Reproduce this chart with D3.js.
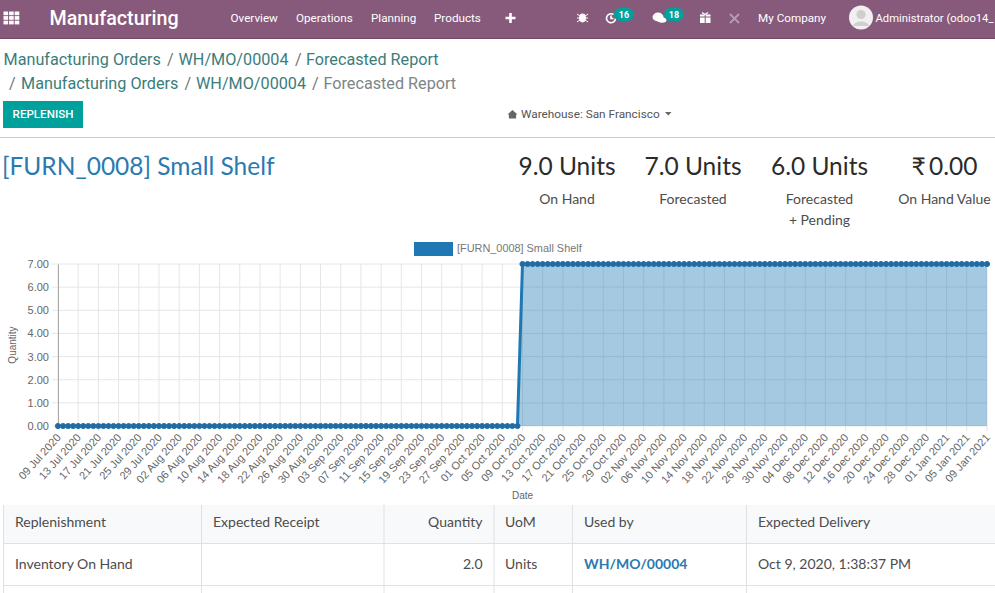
<!DOCTYPE html>
<html>
<head>
<meta charset="utf-8">
<script src="https://cdn.jsdelivr.net/npm/d3@7"></script>
<style>
    html, body { margin: 0; padding: 0; background: #fff; overflow: hidden; }
    svg { display: block; }
    .nav { font-family: Roboto, sans-serif; fill: #fff; }
    .lato { font-family: Lato, sans-serif; }
    .crumb { font-family: Roboto, sans-serif; font-size: 16.2px; fill: #3b7d7b; }
    .chart text { font-family: "Liberation Sans", Arial, sans-serif; fill: #666; }
    .grid line { stroke: #e6e6e6; stroke-width: 1; }
</style>
</head>
<body>
<div id="page"></div>
<script>
var dates = [
    "09 Jul 2020","10 Jul 2020","11 Jul 2020","12 Jul 2020","13 Jul 2020","14 Jul 2020","15 Jul 2020","16 Jul 2020",
    "17 Jul 2020","18 Jul 2020","19 Jul 2020","20 Jul 2020","21 Jul 2020","22 Jul 2020","23 Jul 2020","24 Jul 2020",
    "25 Jul 2020","26 Jul 2020","27 Jul 2020","28 Jul 2020","29 Jul 2020","30 Jul 2020","31 Jul 2020","01 Aug 2020",
    "02 Aug 2020","03 Aug 2020","04 Aug 2020","05 Aug 2020","06 Aug 2020","07 Aug 2020","08 Aug 2020","09 Aug 2020",
    "10 Aug 2020","11 Aug 2020","12 Aug 2020","13 Aug 2020","14 Aug 2020","15 Aug 2020","16 Aug 2020","17 Aug 2020",
    "18 Aug 2020","19 Aug 2020","20 Aug 2020","21 Aug 2020","22 Aug 2020","23 Aug 2020","24 Aug 2020","25 Aug 2020",
    "26 Aug 2020","27 Aug 2020","28 Aug 2020","29 Aug 2020","30 Aug 2020","31 Aug 2020","01 Sep 2020","02 Sep 2020",
    "03 Sep 2020","04 Sep 2020","05 Sep 2020","06 Sep 2020","07 Sep 2020","08 Sep 2020","09 Sep 2020","10 Sep 2020",
    "11 Sep 2020","12 Sep 2020","13 Sep 2020","14 Sep 2020","15 Sep 2020","16 Sep 2020","17 Sep 2020","18 Sep 2020",
    "19 Sep 2020","20 Sep 2020","21 Sep 2020","22 Sep 2020","23 Sep 2020","24 Sep 2020","25 Sep 2020","26 Sep 2020",
    "27 Sep 2020","28 Sep 2020","29 Sep 2020","30 Sep 2020","01 Oct 2020","02 Oct 2020","03 Oct 2020","04 Oct 2020",
    "05 Oct 2020","06 Oct 2020","07 Oct 2020","08 Oct 2020","09 Oct 2020","10 Oct 2020","11 Oct 2020","12 Oct 2020",
    "13 Oct 2020","14 Oct 2020","15 Oct 2020","16 Oct 2020","17 Oct 2020","18 Oct 2020","19 Oct 2020","20 Oct 2020",
    "21 Oct 2020","22 Oct 2020","23 Oct 2020","24 Oct 2020","25 Oct 2020","26 Oct 2020","27 Oct 2020","28 Oct 2020",
    "29 Oct 2020","30 Oct 2020","31 Oct 2020","01 Nov 2020","02 Nov 2020","03 Nov 2020","04 Nov 2020","05 Nov 2020",
    "06 Nov 2020","07 Nov 2020","08 Nov 2020","09 Nov 2020","10 Nov 2020","11 Nov 2020","12 Nov 2020","13 Nov 2020",
    "14 Nov 2020","15 Nov 2020","16 Nov 2020","17 Nov 2020","18 Nov 2020","19 Nov 2020","20 Nov 2020","21 Nov 2020",
    "22 Nov 2020","23 Nov 2020","24 Nov 2020","25 Nov 2020","26 Nov 2020","27 Nov 2020","28 Nov 2020","29 Nov 2020",
    "30 Nov 2020","01 Dec 2020","02 Dec 2020","03 Dec 2020","04 Dec 2020","05 Dec 2020","06 Dec 2020","07 Dec 2020",
    "08 Dec 2020","09 Dec 2020","10 Dec 2020","11 Dec 2020","12 Dec 2020","13 Dec 2020","14 Dec 2020","15 Dec 2020",
    "16 Dec 2020","17 Dec 2020","18 Dec 2020","19 Dec 2020","20 Dec 2020","21 Dec 2020","22 Dec 2020","23 Dec 2020",
    "24 Dec 2020","25 Dec 2020","26 Dec 2020","27 Dec 2020","28 Dec 2020","29 Dec 2020","30 Dec 2020","31 Dec 2020",
    "01 Jan 2021","02 Jan 2021","03 Jan 2021","04 Jan 2021","05 Jan 2021","06 Jan 2021","07 Jan 2021","08 Jan 2021",
    "09 Jan 2021"
];
var quantities = [
    0,0,0,0,0,0,0,0,0,0,0,0,0,0,0,0,0,0,0,0,0,0,0,0,0,0,0,0,0,0,0,0,
    0,0,0,0,0,0,0,0,0,0,0,0,0,0,0,0,0,0,0,0,0,0,0,0,0,0,0,0,0,0,0,0,
    0,0,0,0,0,0,0,0,0,0,0,0,0,0,0,0,0,0,0,0,0,0,0,0,0,0,0,0,
    7,7,7,7,7,7,7,7,7,7,7,7,7,7,7,7,7,7,7,7,7,7,7,7,7,7,7,7,7,7,7,7,
    7,7,7,7,7,7,7,7,7,7,7,7,7,7,7,7,7,7,7,7,7,7,7,7,7,7,7,7,7,7,7,7,
    7,7,7,7,7,7,7,7,7,7,7,7,7,7,7,7,7,7,7,7,7,7,7,7,7,7,7,7,7
];
var yTicks = [0, 1, 2, 3, 4, 5, 6, 7];
var seriesName = "[FURN_0008] Small Shelf";

var navItems = ["Overview", "Operations", "Planning", "Products"];
var crumbsTop = ["Manufacturing Orders", "WH/MO/00004", "Forecasted Report"];
var stats = ["9.0 Units", "7.0 Units", "6.0 Units", "₹ 0.00"];
var statLabels = [["On Hand"], ["Forecasted"], ["Forecasted", "+ Pending"], ["On Hand Value"]];
var tableHeaders = ["Replenishment", "Expected Receipt", "Quantity", "UoM", "Used by", "Expected Delivery"];
var tableRow = ["Inventory On Hand", "", "2.0", "Units", "WH/MO/00004", "Oct 9, 2020, 1:38:37 PM"];

var svg = d3.select("#page").append("svg")
    .attr("width", 995)
    .attr("height", 593);

function addText(parent, x, y, str, size, color, cls, anchor) {
    return parent.append("text")
        .attr("class", cls || null)
        .attr("x", x)
        .attr("y", y)
        .attr("text-anchor", anchor || "start")
        .attr("font-size", size)
        .attr("fill", color)
        .text(str);
}

function drawNavbar() {
    var nav = svg.append("g");
    nav.append("rect").attr("width", 995).attr("height", 38.5).attr("fill", "#875a7b");
    nav.append("rect").attr("y", 38).attr("width", 995).attr("height", 1).attr("fill", "#6f4a66");

    // apps grid icon
    d3.range(3).forEach(function (r) {
        d3.range(3).forEach(function (c) {
            nav.append("rect").attr("x", 3.5 + c * 5.6).attr("y", 11.5 + r * 4.6)
                .attr("width", 4.6).attr("height", 3.7).attr("fill", "#fff");
        });
    });

    addText(nav, 49.5, 24.5, "Manufacturing", 19.7, "#fff", "nav").attr("font-weight", 500);
    var navX = [230.5, 296, 371, 434];
    navItems.forEach(function (d, i) {
        addText(nav, navX[i], 22, d, 11.7, "#fff", "nav");
    });

    // plus
    nav.append("path").attr("d", "M510.5 13v10M505.5 18h10").attr("stroke", "#fff").attr("stroke-width", 2.6);
    // bug
    nav.append("ellipse").attr("cx", 582.5).attr("cy", 18).attr("rx", 3.4).attr("ry", 4.4).attr("fill", "#fff");
    nav.append("path").attr("d", "M577 14l11 8M588 14l-11 8M577 18h11").attr("stroke", "#fff").attr("stroke-width", 1);
    // clock
    nav.append("path").attr("d", "M613.5 14.5a4.5 4.5 0 1 0 2 4M611 15.5v3h2.5")
        .attr("fill", "none").attr("stroke", "#fff").attr("stroke-width", 1.6);
    badge(nav, 624, 14.5, "16");
    // comments
    nav.append("ellipse").attr("cx", 658).attr("cy", 17).attr("rx", 5.5).attr("ry", 4.4).attr("fill", "#fff");
    nav.append("ellipse").attr("cx", 662).attr("cy", 20).attr("rx", 4.5).attr("ry", 2.8).attr("fill", "#fff");
    badge(nav, 674, 14.5, "18");
    // gift
    nav.append("rect").attr("x", 700).attr("y", 14.5).attr("width", 10.5).attr("height", 8.5).attr("fill", "#fff");
    nav.append("path").attr("d", "M705.2 14v9M699.5 17h11.5").attr("stroke", "#875a7b").attr("stroke-width", 1);
    nav.append("path").attr("d", "M702 12.5l3 2 3-2").attr("stroke", "#fff").attr("stroke-width", 1.4).attr("fill", "none");
    // tools
    nav.append("path").attr("d", "M730 14l9 9M739 14l-9 9").attr("stroke", "#b49bad").attr("stroke-width", 2);

    addText(nav, 758, 22, "My Company", 11.7, "#fff", "nav");

    // avatar
    nav.append("circle").attr("cx", 861).attr("cy", 17.5).attr("r", 12).attr("fill", "#f1eff0");
    nav.append("circle").attr("cx", 861).attr("cy", 14.5).attr("r", 4.6).attr("fill", "#cfcfcf");
    nav.append("path").attr("d", "M853 26c1-6 15-6 16 0z").attr("fill", "#cfcfcf");
    addText(nav, 875.5, 22, "Administrator (odoo14_", 10.8, "#fff", "nav")
        .attr("textLength", 118)
        .attr("lengthAdjust", "spacingAndGlyphs");
}

function badge(parent, cx, cy, str) {
    parent.append("rect").attr("x", cx - 10).attr("y", cy - 6.5).attr("width", 20).attr("height", 13)
        .attr("rx", 6.5).attr("fill", "#00a09d");
    addText(parent, cx, cy + 3, str, 9, "#fff", "nav", "middle").attr("font-weight", 700);
}

function drawHeader() {
    var g = svg.append("g");
    var y1 = 65, y2 = 89;
    var x1 = [3.5, 178.5, 306], sep1 = [167, 295];
    crumbsTop.forEach(function (d, i) { addText(g, x1[i], y1, d, 16.2, "#3b7d7b", "crumb"); });
    sep1.forEach(function (x) { addText(g, x, y1, "/", 16.2, "#777", "crumb").style("fill", "#777"); });

    var x2 = [21, 196, 323.5], sep2 = [9, 184.5, 312];
    crumbsTop.forEach(function (d, i) {
        addText(g, x2[i], y2, d, 16.2, i == 2 ? "#7d8587" : "#3b7d7b", "crumb")
            .style("fill", i == 2 ? "#7d8587" : "#3b7d7b");
    });
    sep2.forEach(function (x) { addText(g, x, y2, "/", 16.2, "#777", "crumb").style("fill", "#777"); });

    // replenish button
    g.append("rect").attr("x", 3).attr("y", 101).attr("width", 80).attr("height", 27).attr("fill", "#00a09d");
    addText(g, 43, 118, "REPLENISH", 11.6, "#fff", "nav", "middle").attr("font-weight", 500);

    // warehouse filter
    g.append("path").attr("d", "M507.5 114.5l5-4.5 5 4.5h-1.4v4h-7.2v-4z").attr("fill", "#666");
    addText(g, 521, 118, "Warehouse: San Francisco", 11.8, "#555", "nav").style("fill", "#555");
    g.append("path").attr("d", "M665 112h6.5l-3.2 3.4z").attr("fill", "#666");

    g.append("line").attr("x1", 0).attr("x2", 995).attr("y1", 137.5).attr("y2", 137.5)
        .attr("stroke", "#ccc").attr("stroke-width", 1);

    addText(g, 2, 175, seriesName, 24.5, "#2a7ab0", "lato");

    var statX = [567, 693, 819.5, 944.5];
    stats.forEach(function (d, i) {
        addText(g, statX[i], 175, d, 24.5, "#2b2b2b", "lato", "middle")
            .attr("word-spacing", i == 3 ? -3 : null);
        statLabels[i].forEach(function (s, j) {
            addText(g, statX[i], 204 + j * 21, s, 14, "#4c4c4c", "lato", "middle");
        });
    });
}

function drawChart() {
    var margin = { top: 264, right: 8, bottom: 167, left: 58 };
    var width = 995 - margin.left - margin.right,
        height = 593 - margin.top - margin.bottom;

    var chart = svg.append("g")
        .attr("class", "chart")
        .attr("transform", "translate(" + margin.left + "," + margin.top + ")");

    var x = d3.scalePoint().domain(dates).range([0, width]);
    var y = d3.scaleLinear().domain([0, 7]).range([height, 0]);

    var tickDates = dates.filter(function (d, i) { return i % 4 == 0; });

    // grid
    var grid = chart.append("g").attr("class", "grid");
    grid.selectAll(".gx").data(tickDates).enter().append("line")
        .attr("x1", function (d) { return x(d); })
        .attr("x2", function (d) { return x(d); })
        .attr("y1", 0)
        .attr("y2", height + 5);
    grid.selectAll(".gy").data(yTicks).enter().append("line")
        .attr("x1", -6)
        .attr("x2", width)
        .attr("y1", function (d) { return y(d); })
        .attr("y2", function (d) { return y(d); });

    // area + line
    var series = dates.map(function (d, i) { return { date: d, value: quantities[i] }; });
    var area = d3.area()
        .x(function (d) { return x(d.date); })
        .y0(y(0))
        .y1(function (d) { return y(d.value); });
    var line = d3.line()
        .x(function (d) { return x(d.date); })
        .y(function (d) { return y(d.value); });

    chart.append("path").datum(series).attr("d", area)
        .attr("fill", "#1f77b4").attr("fill-opacity", 0.4);

    // axes
    var yAxis = d3.axisLeft(y).tickValues(yTicks).tickSize(0).tickPadding(9)
        .tickFormat(function (d) { return d3.format(".2f")(d); });
    var gy = chart.append("g").call(yAxis);
    gy.select(".domain").attr("stroke", "#a8a8a8");
    gy.selectAll("text").attr("font-size", 11).style("font-family", "'Liberation Sans', Arial, sans-serif");

    var xAxis = d3.axisBottom(x).tickValues(tickDates).tickSize(0).tickPadding(0);
    var gx = chart.append("g").attr("transform", "translate(0," + height + ")").call(xAxis);
    gx.select(".domain").remove();
    gx.selectAll("text")
        .attr("font-size", 11)
        .attr("text-anchor", "end")
        .attr("dx", 0)
        .attr("dy", 0)
        .attr("transform", "translate(3,12) rotate(-48)");

    chart.append("path").datum(series).attr("d", line)
        .attr("fill", "none").attr("stroke", "#1f77b4").attr("stroke-width", 3);

    chart.selectAll(".dot").data(series).enter().append("circle")
        .attr("class", "dot")
        .attr("cx", function (d) { return x(d.date); })
        .attr("cy", function (d) { return y(d.value); })
        .attr("r", 2.6)
        .attr("fill", "#27679a")
        .attr("stroke", "#1f77b4")
        .attr("stroke-width", 1);

    // axis titles
    chart.append("text")
        .attr("transform", "translate(-42," + (height / 2) + ") rotate(-90)")
        .attr("text-anchor", "middle")
        .attr("font-size", 10)
        .text("Quantity");
    chart.append("text")
        .attr("x", width / 2)
        .attr("y", 235)
        .attr("text-anchor", "middle")
        .attr("font-size", 10)
        .text("Date");

    // legend
    svg.append("rect").attr("x", 414).attr("y", 242).attr("width", 39).attr("height", 14).attr("fill", "#1f77b4");
    svg.append("text").attr("x", 457).attr("y", 252)
        .attr("font-size", 10.9)
        .attr("fill", "#777")
        .style("font-family", "'Liberation Sans', Arial, sans-serif")
        .text(seriesName);
}

function drawTable() {
    var g = svg.append("g").attr("class", "lato");
    var colX = [3.5, 201.5, 384, 494, 572.5, 746.5, 995];
    var rowY = [505, 543.5, 585.5, 593];

    g.append("rect").attr("x", colX[0]).attr("y", rowY[0]).attr("width", 995 - colX[0]).attr("height", rowY[1] - rowY[0])
        .attr("fill", "#f8f9fa");

    colX.slice(0, 6).forEach(function (cx) {
        g.append("line").attr("x1", cx).attr("x2", cx).attr("y1", rowY[0]).attr("y2", 593)
            .attr("stroke", "#dee2e6");
    });
    rowY.slice(1, 3).forEach(function (ry) {
        g.append("line").attr("x1", colX[0]).attr("x2", 995).attr("y1", ry).attr("y2", ry)
            .attr("stroke", "#dee2e6");
    });

    var textX = [15, 213, 482.5, 505, 584, 758];
    tableHeaders.forEach(function (d, i) {
        addText(g, textX[i], 527, d, 14, "#4c4c4c", "lato", i == 2 ? "end" : "start");
    });
    tableRow.forEach(function (d, i) {
        var t = addText(g, textX[i], 569, d, 14, i == 4 ? "#2a7ab0" : "#4c4c4c", "lato", i == 2 ? "end" : "start");
        if (i == 4) { t.attr("font-weight", 700); }
    });
}

drawChart();
drawNavbar();
drawHeader();
drawTable();
</script>
</body>
</html>
